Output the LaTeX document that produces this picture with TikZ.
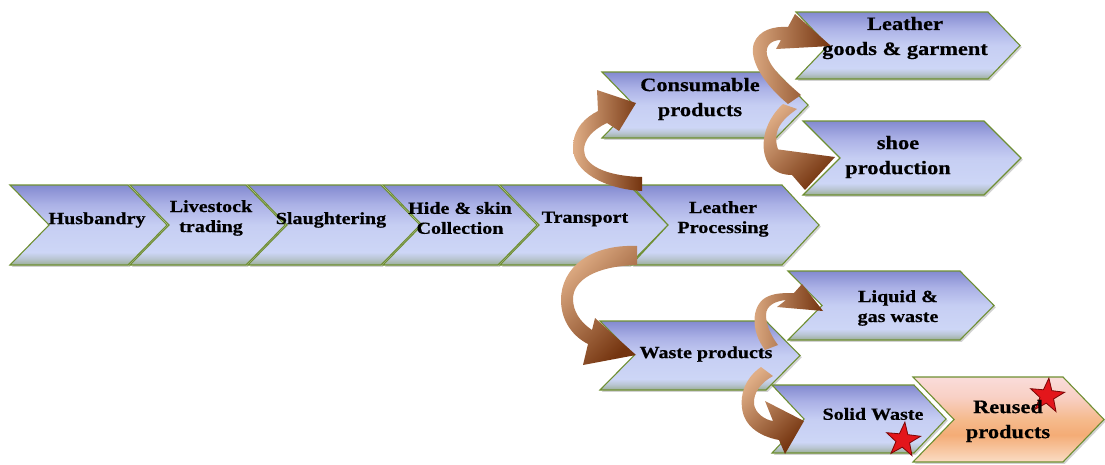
\documentclass[tikz,border=0pt]{standalone}
\usepackage{fontspec}
\setmainfont{Liberation Serif}[FakeStretch=1.18, BoldFeatures={FakeBold=0.5}]
\usetikzlibrary{shapes.geometric}

\definecolor{cbB}{HTML}{9BAE96}
\definecolor{cbB2}{HTML}{B9C5D2}
\definecolor{cbL}{HTML}{CDD6F6}
\definecolor{cbL2}{HTML}{C6CEF3}
\definecolor{cbM}{HTML}{ABB1E6}
\definecolor{cbT}{HTML}{838AD0}
\definecolor{coB}{HTML}{FADCC4}
\definecolor{coM}{HTML}{F4AC76}
\definecolor{coM2}{HTML}{F5BA8C}
\definecolor{coL}{HTML}{F8D0C4}
\definecolor{coT}{HTML}{FADCDA}
\definecolor{chevedge}{HTML}{6E8F32}
\definecolor{arrL}{HTML}{E0AE86}
\definecolor{arrD}{HTML}{74340F}
\definecolor{starR}{HTML}{E3161B}
\definecolor{starD}{HTML}{7A0505}

\pgfdeclareverticalshading{chevblue}{100bp}{color(0bp)=(cbB); color(25bp)=(cbB); color(29bp)=(cbB2); color(33bp)=(cbL); color(50bp)=(cbL2); color(63bp)=(cbM); color(75bp)=(cbT); color(100bp)=(cbT)}
\pgfdeclareverticalshading{chevorange}{100bp}{color(0bp)=(coB); color(25bp)=(coB); color(41bp)=(coM); color(50bp)=(coM2); color(63bp)=(coL); color(75bp)=(coT); color(100bp)=(coT)}

\newcommand{\mychev}[6]{%
  \path[chevshadow, shift={(1.8,1.8)}] (#2,#4) -- (#3,#4) -- ({#3+#6},{(#4+#5)/2}) -- (#3,#5) -- (#2,#5) -- ({#2+#6},{(#4+#5)/2}) -- cycle;
  \path[#1] (#2,#4) -- (#3,#4) -- ({#3+#6},{(#4+#5)/2}) -- (#3,#5) -- (#2,#5) -- ({#2+#6},{(#4+#5)/2}) -- cycle;}

\begin{document}
\begin{tikzpicture}[x=1pt,y=-1pt,
  chevshadow/.style={fill=black!35, opacity=0.5},
  chevB/.style={shade, shading=chevblue, draw=chevedge, line width=1.1pt, line join=miter},
  chevO/.style={shade, shading=chevorange, draw=chevedge, line width=1.1pt, line join=miter},
  lbl/.style={font=\fontsize{17}{20}\selectfont\bfseries, align=center, inner sep=0pt, text=black},
  lblbig/.style={font=\fontsize{19}{25}\selectfont\bfseries, align=center, inner sep=0pt, text=black},
  arrH/.style={left color=arrL, right color=arrD},
  arrG/.style={top color=arrL, bottom color=arrD, shading angle=45},
  starmark/.style={star, star points=5, star point ratio=2.5, inner sep=0pt, minimum size=36pt, fill=starR, draw=starD, line width=0.8pt}
]
\useasboundingbox (0,0) rectangle (1105,464);

% main row
\mychev{chevB}{10}{128}{185}{265}{39}
\mychev{chevB}{130}{246}{185}{265}{39}
\mychev{chevB}{248}{381}{185}{265}{39}
\mychev{chevB}{383}{498}{185}{265}{39}
\mychev{chevB}{500}{629}{185}{265}{39}
\mychev{chevB}{631}{782}{185}{265}{37}
% upper branch
\mychev{chevB}{602}{776}{72}{138}{32}
\mychev{chevB}{796}{988}{12}{79}{32}
\mychev{chevB}{803}{984}{121}{195}{37}
% lower branch
\mychev{chevB}{788}{960}{271}{340}{34}
\mychev{chevB}{600}{766}{321}{390}{34}
\mychev{chevB}{772}{914}{385}{453}{32}
\mychev{chevO}{913}{1063}{377}{462}{41}

% curved arrows
% Transport -> Consumable products
\shade[arrH] (642,191) .. controls (605,189) and (573,172) .. (573,148)
  .. controls (573,128) and (586,117) .. (598,111) -- (597,90) -- (636,103) -- (619,131) -- (607,123)
  .. controls (592,130) and (584,140) .. (584,150) .. controls (584,165) and (605,176) .. (642,177) -- cycle;
% Transport -> Waste products
\shade[arrG] (637,246) .. controls (590,244) and (561,268) .. (561,300)
  .. controls (561,322) and (574,337) .. (588,344) -- (583,365) -- (636,355) -- (595,318) -- (592,330)
  .. controls (580,322) and (573,311) .. (573,299) .. controls (573,280) and (596,266) .. (637,265) -- cycle;
% Consumable -> shoe production
\shade[arrG] (783,104) .. controls (763,122) and (758,150) .. (770,166)
  .. controls (775,172) and (783,175) .. (792,175) -- (805,190) -- (835,157) -- (775,149) -- (783,159)
  .. controls (777,150) and (774,140) .. (778,129) .. controls (782,120) and (790,114) .. (797,109) -- cycle;
% Consumable -> Leather goods
\shade[arrH] (788,104) .. controls (765,85) and (748,60) .. (754,43)
  .. controls (759,30) and (774,26) .. (788,27) -- (795,14) -- (831,46) -- (776,49) -- (781,40)
  .. controls (772,40) and (765,45) .. (767,55) .. controls (770,68) and (786,82) .. (801,95) -- cycle;
% Waste -> Liquid & gas waste
\shade[arrH] (765,350) .. controls (750,330) and (752,306) .. (765,298)
  .. controls (773,293) and (783,293) .. (794,293) -- (802,284) -- (823,311) -- (777,307) -- (786,300)
  .. controls (776,301) and (766,305) .. (766,315) .. controls (766,326) and (772,337) .. (778,345) -- cycle;
% Waste -> Solid Waste
\shade[arrG] (761,367) .. controls (745,378) and (740,395) .. (742,408)
  .. controls (744,425) and (758,436) .. (779,440) -- (785,454) -- (804,421) -- (765,401) -- (773,421)
  .. controls (765,420) and (755,413) .. (754,404) .. controls (753,392) and (762,382) .. (773,376) -- cycle;

% stars
\node[starmark, rotate=-6] (star1) at (903,440) {};
\node[starmark, rotate=-6] (star2) at (1047,396) {};

% labels
\node[lbl] (husb) at (97,220) {Husbandry};
\node[lbl] (live) at (211,218) {Livestock\\trading};
\node[lbl] (slau) at (331,220) {Slaughtering};
\node[lbl] (hide) at (460,218) {Hide \& skin\\Collection};
\node[lbl] (trans) at (585,219) {Transport};
\node[lbl] (lproc) at (723,219) {Leather\\Processing};
\node[lblbig] (cons) at (700,99) {Consumable\\products};
\node[lblbig] (lgood) at (905,38) {Leather\\goods \& garment};
\node[lblbig] (shoe) at (898,157) {shoe\\production};
\node[lbl] (liq) at (898,308) {Liquid \&\\gas waste};
\node[lbl] (waste) at (706,354) {Waste products};
\node[lbl] (solid) at (873,414) {Solid Waste};
\node[lblbig] (reused) at (1008,421) {Reused\\products};
\end{tikzpicture}
\end{document}
